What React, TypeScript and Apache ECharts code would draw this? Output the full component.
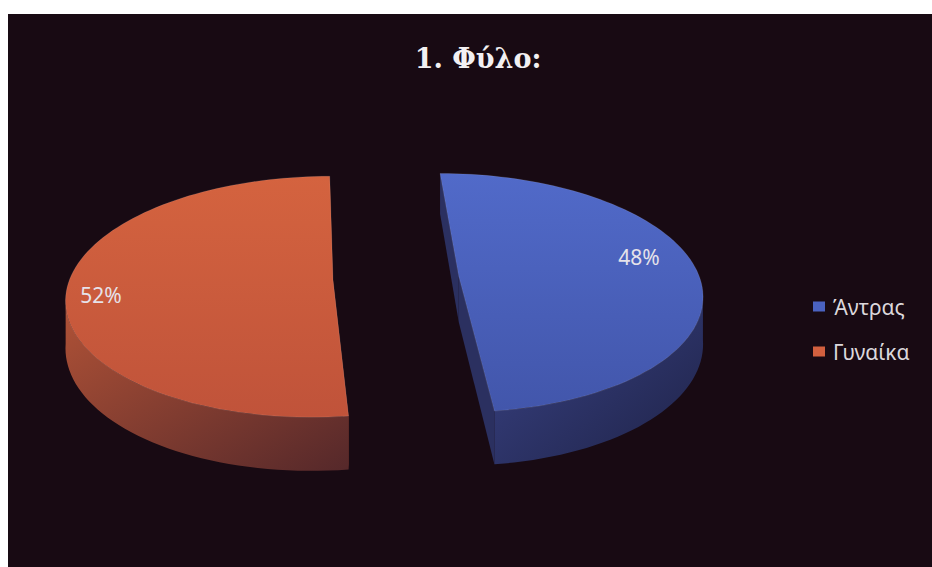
import React, { useEffect, useRef } from "react";
import * as echarts from "echarts";

const titleText = "1. Φύλο:";
const categories = ["Άντρας", "Γυναίκα"];
const values = [48, 52];

const W = 924;
const H = 553;
// layout of the 3D pie (world ellipse + perspective)
const CX = 377;
const CY = 264;
const RXW = 252;
const RYW = 117.6;
const S = 0.14;
const DEPTH = 46;
const EXPLODE = 63;
const CENTER_SHIFT = 11;

const palette = [
  { top: ["#516ac9", "#4256ab"], side: ["#3a4386", "#1f2348"], cut: "#2b3060", legend: "#4a62c0" },
  { top: ["#d4633f", "#c0533a"], side: ["#b25337", "#55282a"], cut: "#7a3528", legend: "#d2603f" },
];
const labelPos = [
  { f: 0.769, dy: -13.5 },
  { f: 0.868, dy: 8.6 },
];

const total = values.reduce((a, b) => a + b, 0);
const starts: number[] = [];
{
  let acc = 0;
  values.forEach((v) => {
    starts.push((acc / total) * 360);
    acc += v;
  });
}

function project(x: number, y: number, z: number): number[] {
  const w = 1 / (1 - (S * y) / RYW);
  return [CX + x * w, CY + (y + z) * w];
}
function rim(theta: number, ex: number, ey: number, r: number, z: number) {
  const t = (theta * Math.PI) / 180;
  return project(ex + r * RXW * Math.sin(t), ey - r * RYW * Math.cos(t), z);
}
function arc(a0: number, a1: number, ex: number, ey: number, z: number) {
  const pts: number[][] = [];
  const n = Math.max(2, Math.ceil((a1 - a0) / 2));
  for (let k = 0; k <= n; k++) pts.push(rim(a0 + ((a1 - a0) * k) / n, ex, ey, 1, z));
  return pts;
}
const sideStart = (Math.acos(-S) * 180) / Math.PI;
const sideEnd = 360 - sideStart;

function makeRender(i: number) {
  return (_params: any, api: any) => {
    const v = api.value(0);
    const a0 = starts[i];
    const a1 = a0 + (v / total) * 360;
    const midDeg = (a0 + a1) / 2;
    const mid = midDeg * (Math.PI / 180);
    const ex = EXPLODE * Math.sin(mid);
    const ey = -EXPLODE * (RYW / RXW) * Math.cos(mid);
    const c0 = project(ex, ey, 0);
    const cd0 = project(ex, ey, DEPTH);
    const c = [c0[0] + CENTER_SHIFT, c0[1]];
    const cd = [cd0[0] + CENTER_SHIFT, cd0[1]];
    const pal = palette[i];
    const children: any[] = [];
    // cut faces
    [a0, a1].forEach((a) => {
      const p = rim(a, ex, ey, 1, 0);
      const pd = rim(a, ex, ey, 1, DEPTH);
      children.push({
        type: "polygon",
        shape: { points: [c, p, pd, cd] },
        style: { fill: pal.cut },
      });
    });
    // outer side
    const s0 = Math.max(a0, sideStart);
    const s1 = Math.min(a1, sideEnd);
    if (s1 > s0) {
      const topArc = arc(s0, s1, ex, ey, 0);
      const botArc = arc(s0, s1, ex, ey, DEPTH).reverse();
      children.push({
        type: "polygon",
        shape: { points: topArc.concat(botArc) },
        style: {
          fill: new echarts.graphic.LinearGradient(0, 0, 1, 1, [
            { offset: 0, color: pal.side[0] },
            { offset: 1, color: pal.side[1] },
          ]),
        },
      });
    }
    // top face
    children.push({
      type: "polygon",
      shape: { points: [c].concat(arc(a0, a1, ex, ey, 0)) },
      style: {
        fill: new echarts.graphic.LinearGradient(0, 0, 0, 1, [
          { offset: 0, color: pal.top[0] },
          { offset: 1, color: pal.top[1] },
        ]),
        stroke: "rgba(255,255,255,0.10)",
        lineWidth: 1,
      },
    });
    // label
    const lp = labelPos[i];
    const l = rim(midDeg, ex, ey, lp.f, 0);
    children.push({
      type: "text",
      style: {
        text: Math.round((v / total) * 100) + "%",
        x: l[0],
        y: l[1] + lp.dy,
        align: "center",
        verticalAlign: "middle",
        fill: "#e6e2ea",
        fontSize: 21,
        fontFamily: "Noto Sans",
      },
    });
    return { type: "group", children };
  };
}

export default function App() {
  const ref = useRef<HTMLDivElement>(null);
  useEffect(() => {
    if (!ref.current) return;
    const chart = echarts.init(ref.current, undefined, { renderer: "svg" });
    chart.setOption({
      animation: false,
      backgroundColor: "#180a13",
      title: {
        text: titleText,
        left: 465,
        top: 26,
        textAlign: "center",
        textStyle: {
          color: "#f2f0f2",
          fontSize: 27,
          fontWeight: "bold",
          fontFamily: "DejaVu Serif",
        },
      },
      legend: {
        orient: "vertical",
        left: 805,
        top: 282,
        padding: 0,
        itemWidth: 12,
        itemHeight: 10,
        itemGap: 24,
        icon: "rect",
        data: categories,
        textStyle: {
          color: "#dcd8dc",
          fontSize: 21,
          fontFamily: "Noto Sans",
          lineHeight: 20,
          padding: [0, 0, 0, 3],
        },
      },
      series: categories.map((name, i) => ({
        type: "custom",
        name,
        coordinateSystem: "none",
        itemStyle: { color: palette[i].legend },
        data: [[values[i]]],
        renderItem: makeRender(i),
      })),
    });
    return () => chart.dispose();
  }, []);
  return (
    <div
      ref={ref}
      style={{ position: "absolute", left: 8, top: 14, width: W, height: H }}
    />
  );
}
